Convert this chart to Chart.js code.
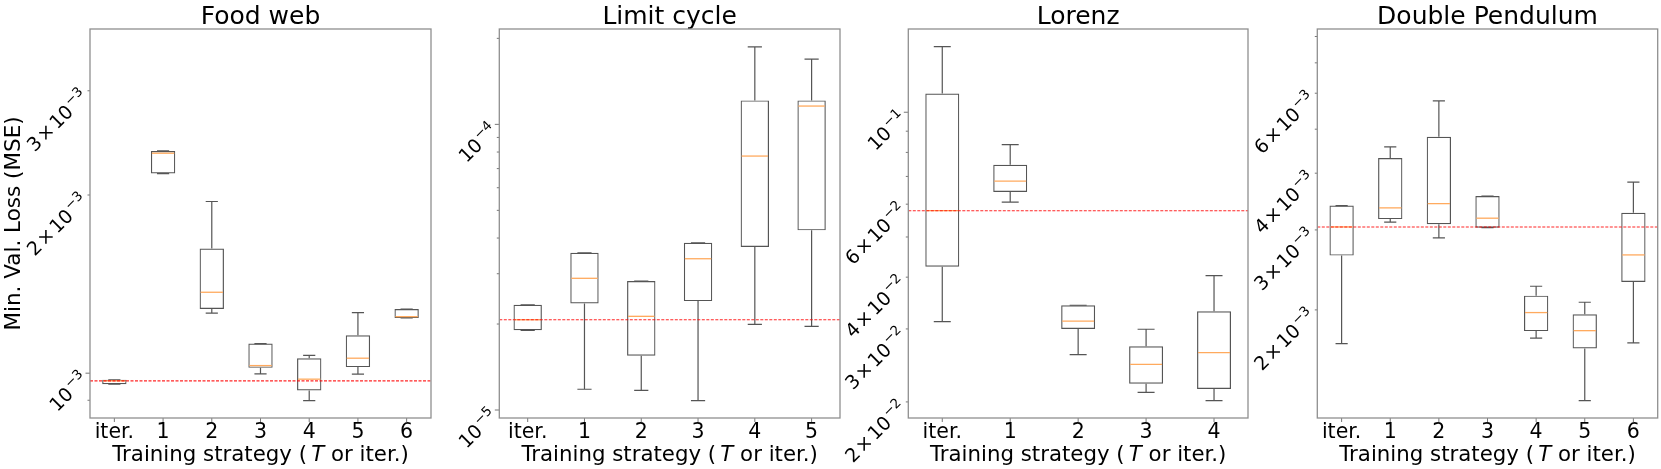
<!DOCTYPE html>
<html>
<head>
<meta charset="utf-8">
<title>Min. Val. Loss by training strategy</title>
<script src="https://cdn.jsdelivr.net/npm/chart.js"></script>
<style>
    html, body { margin: 0; padding: 0; background: #fff; }
    #fig { position: relative; width: 1661px; height: 469px; overflow: hidden; background: #fff; }
    #fig canvas { position: absolute; top: 0; }
</style>
</head>
<body>
<div id="fig">
    <canvas id="foodWeb" width="436" height="469" style="left:0px"></canvas>
    <canvas id="limitCycle" width="413" height="469" style="left:432px"></canvas>
    <canvas id="lorenz" width="412" height="469" style="left:841px"></canvas>
    <canvas id="doublePendulum" width="412" height="469" style="left:1249px"></canvas>
</div>

<script>
    // Box statistics, one row per category: [lower whisker, Q1, median, Q3, upper whisker]
    const foodWebCats = ['iter.', '1', '2', '3', '4', '5', '6'];
    const foodWebBoxes = [
        [0.958e-3, 0.958e-3, 0.9705e-3, 0.9743e-3, 0.9743e-3],
        [2.174e-3, 2.174e-3, 2.353e-3, 2.374e-3, 2.374e-3],
        [1.263e-3, 1.284e-3, 1.370e-3, 1.624e-3, 1.950e-3],
        [0.997e-3, 1.021e-3, 1.030e-3, 1.122e-3, 1.122e-3],
        [0.899e-3, 0.935e-3, 0.977e-3, 1.060e-3, 1.072e-3],
        [0.996e-3, 1.024e-3, 1.060e-3, 1.159e-3, 1.266e-3],
        [1.240e-3, 1.240e-3, 1.246e-3, 1.283e-3, 1.283e-3]
    ];
    const foodWebYTicks = [1e-3, 2e-3, 3e-3];
    const foodWebRange = [8.40e-4, 3.815e-3];

    const limitCycleCats = ['iter.', '1', '2', '3', '4', '5'];
    const limitCycleBoxes = [
        [1.901e-5, 1.901e-5, 2.070e-5, 2.336e-5, 2.336e-5],
        [1.182e-5, 2.362e-5, 2.891e-5, 3.553e-5, 3.553e-5],
        [1.172e-5, 1.549e-5, 2.128e-5, 2.828e-5, 2.828e-5],
        [1.078e-5, 2.406e-5, 3.385e-5, 3.850e-5, 3.850e-5],
        [1.995e-5, 3.719e-5, 7.745e-5, 1.213e-4, 1.869e-4],
        [1.963e-5, 4.256e-5, 1.159e-4, 1.213e-4, 1.693e-4]
    ];
    const limitCycleYTicks = [1e-5, 1e-4];
    const limitCycleRange = [9.376e-6, 2.157e-4];

    const lorenzCats = ['iter.', '1', '2', '3', '4'];
    const lorenzBoxes = [
        [3.125e-2, 4.239e-2, 5.786e-2, 11.09e-2, 14.40e-2],
        [6.070e-2, 6.423e-2, 6.817e-2, 7.470e-2, 8.350e-2],
        [2.600e-2, 3.000e-2, 3.132e-2, 3.422e-2, 3.422e-2],
        [2.110e-2, 2.213e-2, 2.465e-2, 2.724e-2, 2.995e-2],
        [2.014e-2, 2.150e-2, 2.630e-2, 3.310e-2, 4.034e-2]
    ];
    const lorenzYTicks = [2e-2, 3e-2, 4e-2, 6e-2, 1e-1];
    const lorenzRange = [1.829e-2, 0.1588];

    const pendulumCats = ['iter.', '1', '2', '3', '4', '5', '6'];
    const pendulumBoxes = [
        [1.686e-3, 2.634e-3, 3.046e-3, 3.394e-3, 3.394e-3],
        [3.121e-3, 3.169e-3, 3.355e-3, 4.318e-3, 4.572e-3],
        [2.881e-3, 3.089e-3, 3.428e-3, 4.810e-3, 5.773e-3],
        [3.035e-3, 3.035e-3, 3.184e-3, 3.561e-3, 3.561e-3],
        [1.733e-3, 1.796e-3, 1.973e-3, 2.150e-3, 2.255e-3],
        [1.262e-3, 1.644e-3, 1.800e-3, 1.957e-3, 2.079e-3],
        [1.692e-3, 2.305e-3, 2.643e-3, 3.274e-3, 3.822e-3]
    ];
    const pendulumYTicks = [2e-3, 3e-3, 4e-3, 6e-3];
    const pendulumRange = [1.156e-3, 8.31e-3];

    const FONT = '"DejaVu Sans", sans-serif';

    // draws "m × 10^e" rotated 45°, right end anchored at (ax, ay)
    function drawSciLabel(ctx, v, ax, ay, size) {
        const e = Math.floor(Math.log10(v) + 1e-9);
        const m = Math.round(v / Math.pow(10, e));
        const base = m === 1 ? '10' : m + '\u200a\u00d7\u200a10';
        const sup = (e < 0 ? '\u2212' : '') + Math.abs(e);
        const supSize = size * 0.7;
        ctx.font = size + 'px ' + FONT;
        const wb = ctx.measureText(base).width;
        ctx.font = supSize + 'px ' + FONT;
        const ws = ctx.measureText(sup).width;
        ctx.save();
        ctx.translate(ax, ay);
        ctx.rotate(-Math.PI / 4);
        ctx.textAlign = 'left';
        ctx.textBaseline = 'alphabetic';
        const x0 = -(wb + ws + 1.5);
        const baseY = size * 0.46;
        ctx.font = size + 'px ' + FONT;
        ctx.fillText(base, x0, baseY);
        ctx.font = supSize + 'px ' + FONT;
        ctx.fillText(sup, x0 + wb + 1.5, baseY - size * 0.42);
        ctx.restore();
    }

    const boxPlotPlugin = {
        id: 'boxPlot',
        afterDatasetsDraw(chart, args, o) {
            const { ctx, chartArea: a, scales: { x, y } } = chart;
            const step = x.getPixelForValue(1) - x.getPixelForValue(0);
            const boxW = step * 0.5, capW = step * 0.25;
            ctx.save();
            // whiskers and caps
            ctx.lineWidth = 1.2;
            ctx.strokeStyle = '#555';
            o.boxes.forEach((b, i) => {
                const cx = x.getPixelForValue(i);
                const [lo, q1, , q3, hi] = b.map(v => y.getPixelForValue(v));
                ctx.beginPath();
                ctx.moveTo(cx, q1); ctx.lineTo(cx, lo);
                ctx.moveTo(cx, q3); ctx.lineTo(cx, hi);
                ctx.moveTo(cx - capW / 2, lo); ctx.lineTo(cx + capW / 2, lo);
                ctx.moveTo(cx - capW / 2, hi); ctx.lineTo(cx + capW / 2, hi);
                ctx.stroke();
            });
            // medians
            ctx.strokeStyle = '#ffaa5e';
            ctx.lineWidth = 1.3;
            o.boxes.forEach((b, i) => {
                const cx = x.getPixelForValue(i);
                const py = y.getPixelForValue(b[2]);
                ctx.beginPath();
                ctx.moveTo(cx - boxW / 2 + 1, py); ctx.lineTo(cx + boxW / 2 - 1, py);
                ctx.stroke();
            });
            // reference line at the median of "iter."
            const ry = y.getPixelForValue(o.boxes[0][2]);
            ctx.strokeStyle = 'rgba(255,0,0,0.85)';
            ctx.lineWidth = 1.1;
            ctx.setLineDash([3, 1.5]);
            ctx.beginPath();
            ctx.moveTo(a.left, ry); ctx.lineTo(a.right, ry);
            ctx.stroke();
            ctx.restore();
        },
        afterDraw(chart, args, o) {
            const { ctx, chartArea: a, scales: { x, y } } = chart;
            ctx.save();
            ctx.fillStyle = '#000';
            ctx.strokeStyle = '#777';
            ctx.lineWidth = 1;

            // x ticks and labels
            ctx.font = '20.5px ' + FONT;
            ctx.textAlign = 'center';
            ctx.textBaseline = 'alphabetic';
            o.cats.forEach((c, i) => {
                const cx = x.getPixelForValue(i);
                ctx.beginPath();
                ctx.moveTo(cx, a.bottom); ctx.lineTo(cx, a.bottom + 4);
                ctx.stroke();
                ctx.fillText(c, cx, 438.3);
            });

            // y ticks (log decades and their multiples)
            const e0 = Math.floor(Math.log10(y.min)), e1 = Math.ceil(Math.log10(y.max));
            for (let e = e0; e <= e1; e++) {
                for (let k = 1; k <= 9; k++) {
                    const v = k * Math.pow(10, e);
                    if (v <= y.min || v >= y.max) continue;
                    const py = y.getPixelForValue(v);
                    ctx.beginPath();
                    ctx.moveTo(a.left, py); ctx.lineTo(a.left - (k === 1 ? 4.5 : 2.5), py);
                    ctx.stroke();
                }
            }
            o.yTicks.forEach(v => drawSciLabel(ctx, v, a.left - 7, y.getPixelForValue(v) + 1, 19));

            // title
            const mid = (a.left + a.right) / 2;
            ctx.font = '25px ' + FONT;
            ctx.textAlign = 'center';
            ctx.fillText(o.title, mid, 23.5);

            // x-axis title with italic T
            const parts = [['Training strategy (\u2009', ''], ['T', 'oblique '], [' or iter.)', '']];
            let total = 0;
            parts.forEach(p => { ctx.font = p[1] + '21.3px ' + FONT; total += ctx.measureText(p[0]).width; });
            let px = mid - total / 2;
            ctx.textAlign = 'left';
            parts.forEach(p => {
                ctx.font = p[1] + '21.3px ' + FONT;
                ctx.fillText(p[0], px, 460.8);
                px += ctx.measureText(p[0]).width;
            });

            // y-axis title (first panel only)
            if (o.yTitle) {
                ctx.save();
                ctx.translate(20.3, (a.top + a.bottom) / 2);
                ctx.rotate(-Math.PI / 2);
                ctx.textAlign = 'center';
                ctx.font = '21.5px ' + FONT;
                ctx.fillText(o.yTitle, 0, 0);
                ctx.restore();
            }

            // frame
            ctx.strokeStyle = '#8f8f8f';
            ctx.lineWidth = 1.3;
            ctx.strokeRect(a.left, a.top, a.width, a.height);
            ctx.restore();
        }
    };

    function makePanel(id, title, cats, boxes, yTicks, range, canvasLeft, plotLeft, plotRight, extra) {
        const canvas = document.getElementById(id);
        new Chart(canvas, {
            type: 'bar',
            data: {
                labels: cats,
                datasets: [{
                    data: boxes.map(b => [b[1], b[3]]),
                    backgroundColor: 'rgba(0,0,0,0)',
                    borderColor: '#555',
                    borderWidth: 1.2,
                    borderSkipped: false,
                    barPercentage: 0.5,
                    categoryPercentage: 1.0
                }]
            },
            options: {
                responsive: false,
                animation: false,
                devicePixelRatio: 1,
                layout: {
                    padding: {
                        left: plotLeft - canvasLeft,
                        right: canvasLeft + canvas.width - plotRight,
                        top: 29,
                        bottom: 51
                    }
                },
                scales: {
                    x: { type: 'category', display: false, offset: true },
                    y: { type: 'logarithmic', display: false, min: range[0], max: range[1], beginAtZero: false }
                },
                plugins: {
                    legend: { display: false },
                    tooltip: { enabled: false },
                    boxPlot: Object.assign({ title, cats, boxes, yTicks }, extra || {})
                }
            },
            plugins: [boxPlotPlugin]
        });
    }

    makePanel('foodWeb', 'Food web', foodWebCats, foodWebBoxes, foodWebYTicks, foodWebRange,
        0, 90, 431, { yTitle: 'Min. Val. Loss (MSE)' });
    makePanel('limitCycle', 'Limit cycle', limitCycleCats, limitCycleBoxes, limitCycleYTicks, limitCycleRange,
        432, 499.3, 840);
    makePanel('lorenz', 'Lorenz', lorenzCats, lorenzBoxes, lorenzYTicks, lorenzRange,
        841, 908.3, 1248);
    makePanel('doublePendulum', 'Double Pendulum', pendulumCats, pendulumBoxes, pendulumYTicks, pendulumRange,
        1249, 1317.3, 1657.7);
</script>
</body>
</html>
